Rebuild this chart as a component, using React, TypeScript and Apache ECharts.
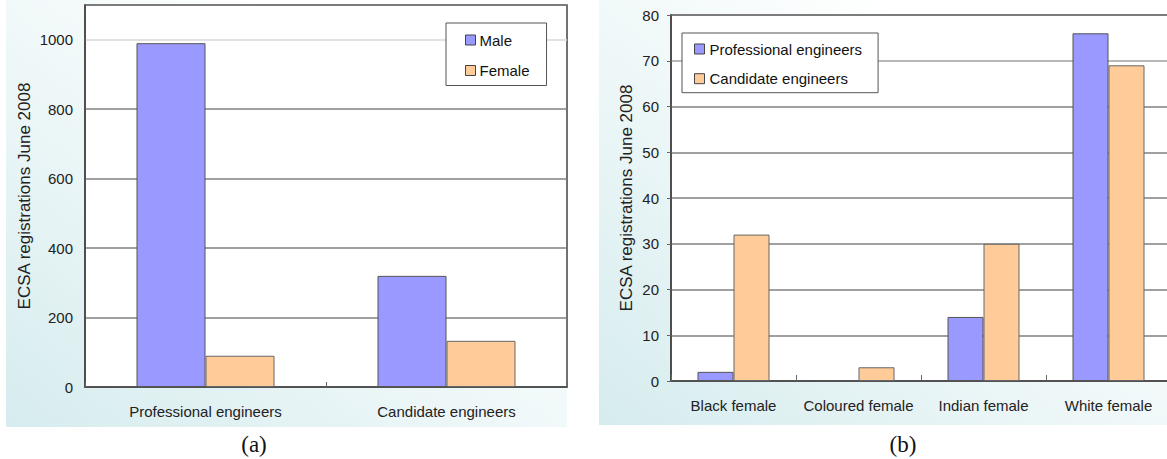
import React, { useEffect, useRef } from "react";
import * as echarts from "echarts";

const catsA = ["Professional engineers", "Candidate engineers"];
const maleA = [990, 320];
const femaleA = [90, 133];
const yTicksA = { min: 0, max: 1100, interval: 200 };

const catsB = ["Black female", "Coloured female", "Indian female", "White female"];
const profB = [2, 0, 14, 76];
const candB = [32, 3, 30, 69];
const yTicksB = { min: 0, max: 80, interval: 10 };

const BLUE = "#9999ff";
const ORANGE = "#ffcc99";
const FONT = "'Liberation Sans', Arial, sans-serif";

export default function App() {
  const ref = useRef<HTMLDivElement>(null);
  useEffect(() => {
    if (!ref.current) return;
    const chart = echarts.init(ref.current, null, { renderer: "svg" });
    const grad = () =>
      new echarts.graphic.LinearGradient(0, 1, 1, 0, [
        { offset: 0, color: "#d6ecee" },
        { offset: 0.75, color: "#ffffff" },
        { offset: 1, color: "#ffffff" },
      ]);
    const gridLineA = ["#808080", "#808080", "#808080", "#808080", "#808080", "#d8d8d8", "#808080"];
    const gridLineB = ["#808080", "#808080", "#808080", "#808080", "#808080", "#808080", "#808080", "#a0a0a0", "#808080"];
    const valueAxisCommon = {
      type: "value",
      axisLine: { show: true, lineStyle: { color: "#444", width: 1.5 } },
      axisLabel: { fontFamily: FONT, fontSize: 15, color: "#222", margin: 12, showMaxLabel: true },
    };
    const option: any = {
      animation: false,
      backgroundColor: "#ffffff",
      graphic: [
        { type: "rect", z: -10, shape: { x: 6, y: 0, width: 561, height: 427 }, style: { fill: grad() } },
        { type: "rect", z: -10, shape: { x: 599, y: 0, width: 580, height: 425 }, style: { fill: grad() } },
        {
          type: "text", x: 24.5, y: 196, rotation: Math.PI / 2,
          style: { text: "ECSA registrations June 2008", fontFamily: FONT, fontSize: 17, fill: "#222", align: "center", verticalAlign: "middle" },
        },
        {
          type: "text", x: 626, y: 198, rotation: Math.PI / 2,
          style: { text: "ECSA registrations June 2008", fontFamily: FONT, fontSize: 17, fill: "#222", align: "center", verticalAlign: "middle" },
        },
        {
          type: "text", x: 254, y: 444,
          style: { text: "(a)", fontFamily: "'Liberation Serif', 'Times New Roman', serif", fontSize: 23, fill: "#111", align: "center", verticalAlign: "middle" },
        },
        {
          type: "text", x: 903, y: 444,
          style: { text: "(b)", fontFamily: "'Liberation Serif', 'Times New Roman', serif", fontSize: 23, fill: "#111", align: "center", verticalAlign: "middle" },
        },
      ],
      grid: [
        { left: 85, top: 5, width: 482, height: 382, show: true, backgroundColor: "#ffffff", borderColor: "#444", borderWidth: 1.5, containLabel: false },
        { left: 671, top: 15, width: 500, height: 366, show: true, backgroundColor: "#ffffff", borderColor: "#444", borderWidth: 1.5, containLabel: false },
      ],
      legend: [
        {
          data: ["Male", "Female"],
          orient: "vertical",
          left: 446, top: 23,
          padding: [9, 17, 7, 19],
          itemGap: 14.5,
          itemWidth: 10, itemHeight: 10,
          icon: "rect",
          borderColor: "#555", borderWidth: 1,
          backgroundColor: "#ffffff",
          itemStyle: { borderColor: "#444", borderWidth: 1 },
          textStyle: { fontFamily: FONT, fontSize: 15, color: "#111", lineHeight: 16, padding: [0, 0, 0, -1] },
        },
        {
          data: ["Professional engineers", "Candidate engineers"],
          orient: "vertical",
          left: 682, top: 33,
          padding: [8, 16, 6, 12],
          itemGap: 13.7,
          itemWidth: 10, itemHeight: 10,
          icon: "rect",
          borderColor: "#555", borderWidth: 1,
          backgroundColor: "#ffffff",
          itemStyle: { borderColor: "#444", borderWidth: 1 },
          textStyle: { fontFamily: FONT, fontSize: 15, color: "#111", lineHeight: 16 },
        },
      ],
      xAxis: [
        {
          type: "category", gridIndex: 0, data: catsA,
          axisLine: { lineStyle: { color: "#444", width: 1.5 } },
          axisTick: { show: true, inside: true, length: 5, alignWithLabel: false, lineStyle: { color: "#666" } },
          axisLabel: { fontFamily: FONT, fontSize: 15, color: "#222", margin: 17, interval: 0 },
        },
        {
          type: "category", gridIndex: 1, data: catsB,
          axisLine: { lineStyle: { color: "#444", width: 1.5 } },
          axisTick: { show: true, inside: true, length: 6, alignWithLabel: false, interval: 0, lineStyle: { color: "#666" } },
          axisLabel: { fontFamily: FONT, fontSize: 15, color: "#222", margin: 17, interval: 0 },
        },
      ],
      yAxis: [
        {
          ...valueAxisCommon, gridIndex: 0, ...yTicksA,
          axisTick: { show: false },
          axisLabel: { ...valueAxisCommon.axisLabel, formatter: (v: number) => (v > 1000 ? "" : String(v)) },
          splitLine: { show: true, lineStyle: { color: gridLineA, width: 1.5 } },
        },
        {
          ...valueAxisCommon, gridIndex: 1, ...yTicksB,
          axisTick: { show: true, inside: false, length: 4, lineStyle: { color: "#666" } },
          splitLine: { show: true, lineStyle: { color: gridLineB, width: 1.5 } },
        },
      ],
      series: [
        {
          name: "Male", type: "bar", xAxisIndex: 0, yAxisIndex: 0, data: maleA,
          barWidth: 69, barGap: "0%",
          itemStyle: { color: BLUE, borderColor: "#555", borderWidth: 1 },
        },
        {
          name: "Female", type: "bar", xAxisIndex: 0, yAxisIndex: 0, data: femaleA,
          barWidth: 69, barGap: "0%",
          itemStyle: { color: ORANGE, borderColor: "#666", borderWidth: 1 },
        },
        {
          name: "Professional engineers", type: "bar", xAxisIndex: 1, yAxisIndex: 1, data: profB,
          barWidth: 36, barGap: "0%",
          itemStyle: { color: BLUE, borderColor: "#555", borderWidth: 1 },
        },
        {
          name: "Candidate engineers", type: "bar", xAxisIndex: 1, yAxisIndex: 1, data: candB,
          barWidth: 36, barGap: "0%",
          itemStyle: { color: ORANGE, borderColor: "#666", borderWidth: 1 },
        },
      ],
    };
    chart.setOption(option);
    return () => chart.dispose();
  }, []);
  return (
    <div style={{ position: "fixed", left: 0, top: 0, width: 1167, height: 459, overflow: "hidden" }}>
      <div ref={ref} style={{ width: 1180, height: 459 }} />
    </div>
  );
}
